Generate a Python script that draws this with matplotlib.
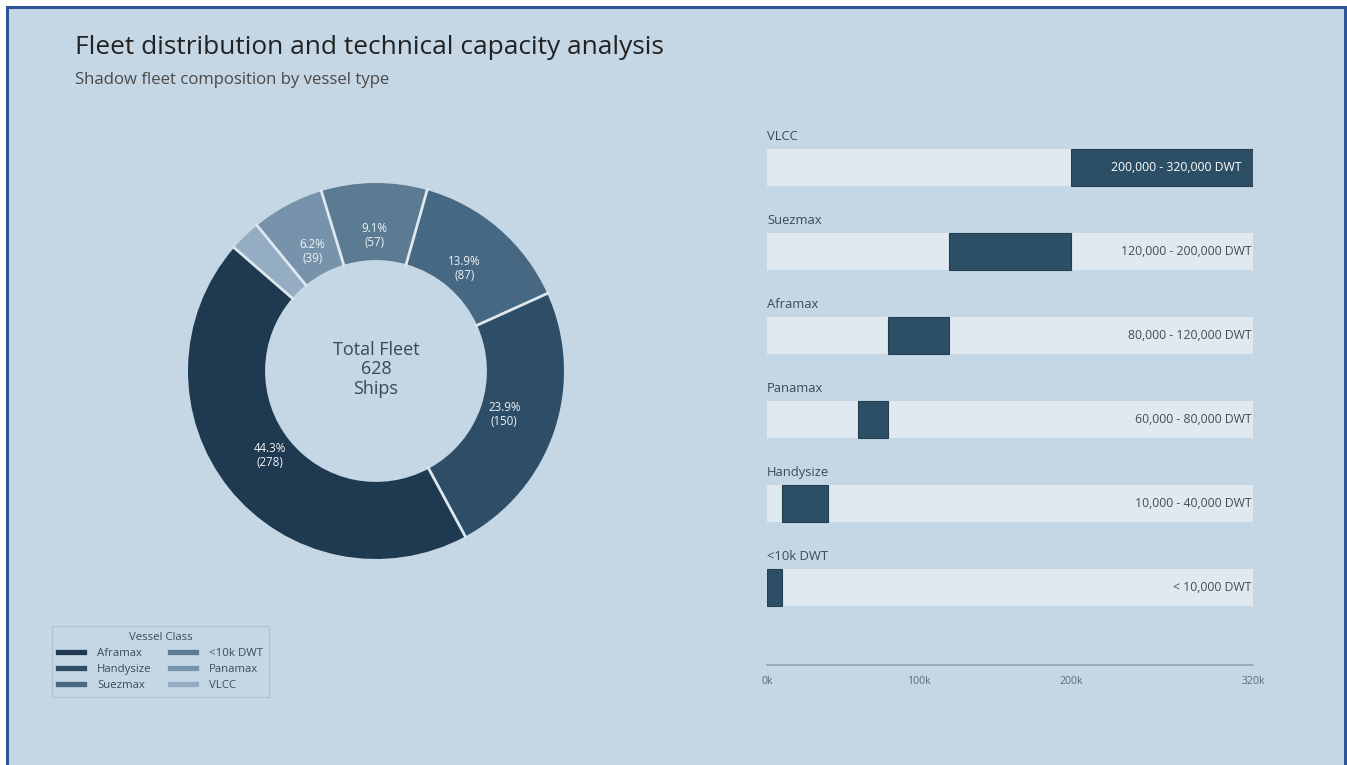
import matplotlib
matplotlib.use("Agg")
import numpy as np
import matplotlib.pyplot as plt
from matplotlib.patches import Rectangle
from matplotlib.lines import Line2D

# Fleet composition (ships per vessel class)
classes = ["Aframax", "Handysize", "Suezmax", "<10k DWT", "Panamax", "VLCC"]
counts = [278, 150, 87, 57, 39, 17]
slice_colors = ["#1f3a50", "#2e4e68", "#466883", "#5b7b93", "#7793ab", "#94adc2"]

# Technical capacity ranges (deadweight tonnage)
bar_classes = ["VLCC", "Suezmax", "Aframax", "Panamax", "Handysize", "<10k DWT"]
dwt_min = [200000, 120000, 80000, 60000, 10000, 0]
dwt_max = [320000, 200000, 120000, 80000, 40000, 10000]
range_labels = ["200,000 - 320,000 DWT", "120,000 - 200,000 DWT", "80,000 - 120,000 DWT",
                "60,000 - 80,000 DWT", "10,000 - 40,000 DWT", "< 10,000 DWT"]
axis_max = 320000
tick_values = [0, 100000, 200000, 320000]
tick_labels = ["0k", "100k", "200k", "320k"]

BG = "#c5d7e5"
TEXT = "#3a4a58"
plt.rcParams["font.family"] = ["Open Sans", "DejaVu Sans"]

W, H = 1347, 765
fig = plt.figure(figsize=(W / 100, H / 100), dpi=100, facecolor="white")
fig.patches.append(Rectangle((7 / W, -0.01), (1338) / W, 1.01 - 7 / H, transform=fig.transFigure,
                             facecolor=BG, edgecolor="#2f5597", linewidth=2.2, zorder=-10))

def px(x, y):
    return x / W, 1 - y / H

fig.text(*px(75, 47), "Fleet distribution and technical capacity analysis", fontsize=18.9,
         color="#222222", va="center", ha="left")
fig.text(*px(75, 80), "Shadow fleet composition by vessel type", fontsize=12.1,
         color="#4a4a4a", va="center", ha="left")

# ---- Donut chart ----
cx, cy, R = 376, 371, 188
ax_d = fig.add_axes([(cx - R) / W, 1 - (cy + R) / H, 2 * R / W, 2 * R / H])
ax_d.set_facecolor("none")
total = sum(counts)

def pct_fmt(p):
    n = round(p * total / 100)
    return f"{p:.1f}%\n({n})" if p >= 5 else ""

ring_w = 0.41
wedges, _, autotexts = ax_d.pie(counts, colors=slice_colors, startangle=139, counterclock=True,
                                radius=1.0, autopct=pct_fmt, pctdistance=0.72,
                                wedgeprops=dict(width=ring_w, linewidth=0),
                                textprops=dict(color="#eef3f7", fontsize=8.3, linespacing=1.1))
# light separators between slices
for w in wedges:
    a = np.deg2rad(w.theta1)
    ax_d.plot([(1 - ring_w - 0.01) * np.cos(a), 1.01 * np.cos(a)],
              [(1 - ring_w - 0.01) * np.sin(a), 1.01 * np.sin(a)],
              color="#dde8f0", lw=2.0, solid_capstyle="butt")
ax_d.set_xlim(-1, 1)
ax_d.set_ylim(-1, 1)
ax_d.set_aspect("equal")
ax_d.axis("off")
ax_d.text(0, 0.01, f"Total Fleet\n{total}\nShips", ha="center", va="center", fontsize=13,
          color="#34495c", linespacing=1.1)

handles = [Line2D([0], [0], color=c, lw=3.8) for c in slice_colors]
leg = fig.legend(handles, classes, title="Vessel Class", ncol=2, loc="upper left",
                 bbox_to_anchor=px(52, 626), borderaxespad=0, fontsize=8.2, title_fontsize=8.2,
                 frameon=True, fancybox=False, handlelength=2.3, handletextpad=1.15,
                 columnspacing=1.6, labelspacing=0.45, borderpad=0.5)
leg.get_frame().set_facecolor(BG)
leg.get_frame().set_edgecolor("#aabccb")
leg.get_frame().set_linewidth(0.8)
for t in leg.get_texts():
    t.set_color(TEXT)
leg.get_title().set_color(TEXT)

# ---- Capacity range bars ----
x0, x1 = 767, 1253
top_px, bot_px = 120, 665
ax_b = fig.add_axes([x0 / W, 1 - bot_px / H, (x1 - x0) / W, (bot_px - top_px) / H])
ax_b.set_facecolor("none")
step = 84
first_center = 167.5
ax_b.set_xlim(0, axis_max)
ax_b.set_ylim((bot_px - first_center) / step, -(first_center - top_px) / step)
bh = 37 / step
ypos = list(range(len(bar_classes)))
ax_b.barh(ypos, [axis_max] * len(ypos), left=0, height=bh, color="#e1e9f0", zorder=1)
ax_b.barh(ypos, [b - a for a, b in zip(dwt_min, dwt_max)], left=dwt_min, height=bh,
          color="#2d4f66", edgecolor="#24404f", linewidth=0.8, zorder=2)
for y, name, lo, hi, lab in zip(ypos, bar_classes, dwt_min, dwt_max, range_labels):
    ax_b.text(0, y - bh / 2 - 0.07, name, ha="left", va="bottom", fontsize=9.4, color=TEXT)
    if hi >= axis_max and (hi - lo) > 0.3 * axis_max:
        ax_b.annotate(lab, (axis_max, y), xytext=(-8, 0), textcoords="offset points",
                      ha="right", va="center", fontsize=8.8, color="white", zorder=3)
    else:
        ax_b.annotate(lab, (axis_max, y), xytext=(-1, 0), textcoords="offset points",
                      ha="right", va="center", fontsize=8.8, color="#444c55", zorder=3)

for s in ["top", "right", "left"]:
    ax_b.spines[s].set_visible(False)
ax_b.spines["bottom"].set_color("#8fa5b8")
ax_b.spines["bottom"].set_linewidth(1.2)
ax_b.set_yticks([])
ax_b.set_xticks(tick_values)
ax_b.set_xticklabels(tick_labels)
ax_b.tick_params(axis="x", length=0, pad=8, labelsize=7.6, labelcolor="#5a6a78")

fig.savefig("out.png", dpi=100, facecolor=fig.get_facecolor())
